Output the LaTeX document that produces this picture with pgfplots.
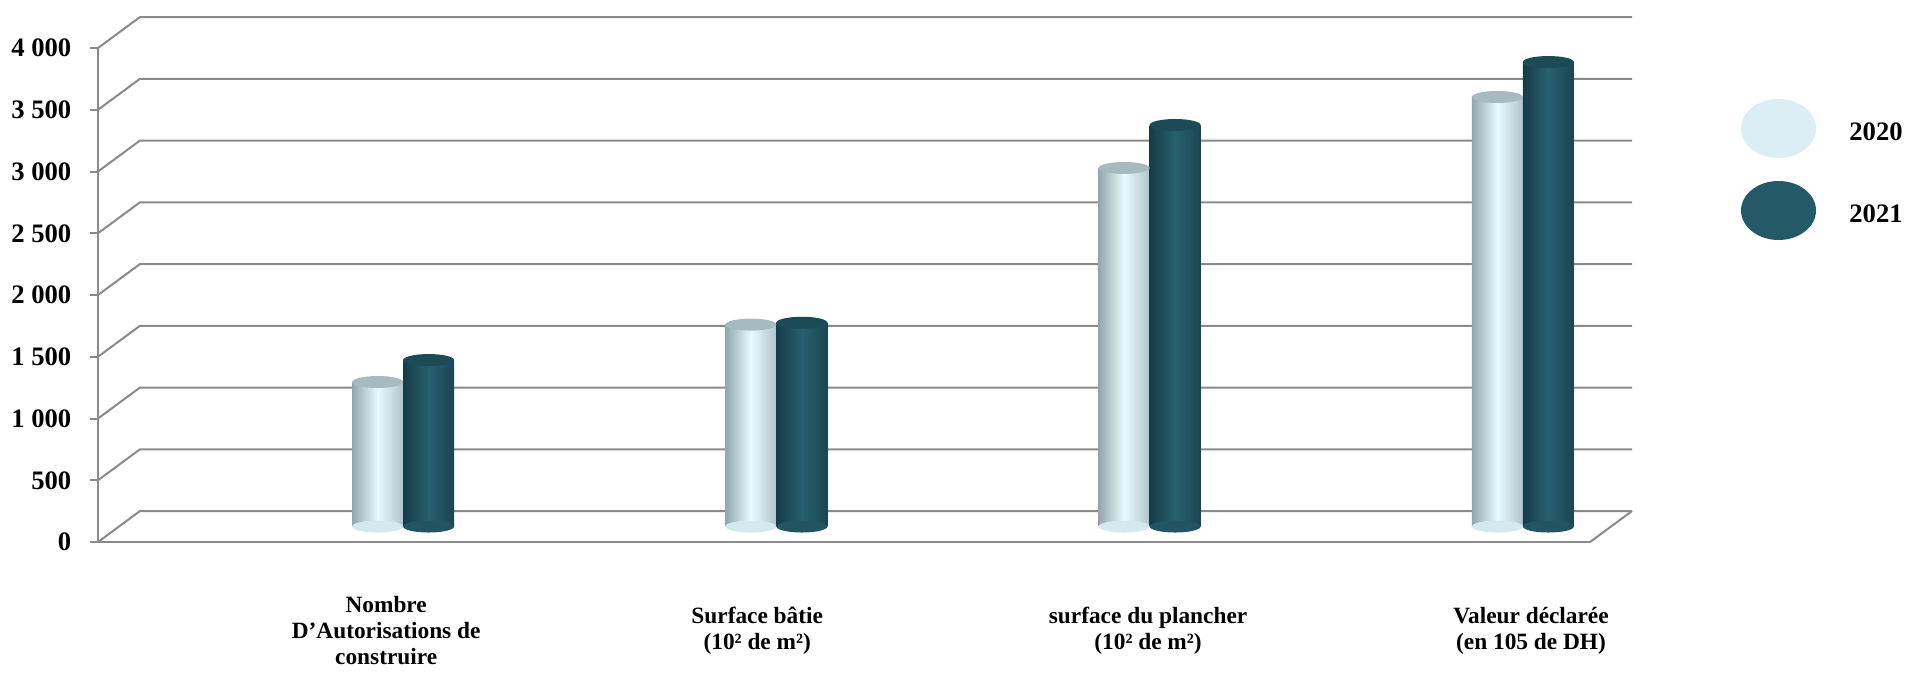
\documentclass[border=0pt]{standalone}
\usepackage{fontspec}
\setmainfont{Liberation Serif}
\usepackage{pgfplots}
\usepackage{pgfplotstable}
\pgfplotsset{compat=1.18}

\definecolor{gridc}{RGB}{138,138,138}
\definecolor{lightL}{RGB}{146,166,174}
\definecolor{lightM}{RGB}{230,251,255}
\definecolor{lightR}{RGB}{176,196,203}
\definecolor{lightCap}{RGB}{167,186,192}
\definecolor{lightBot}{RGB}{212,232,238}
\definecolor{darkL}{RGB}{22,60,71}
\definecolor{darkM}{RGB}{40,96,110}
\definecolor{darkR}{RGB}{26,70,82}
\definecolor{darkCap}{RGB}{29,74,87}
\definecolor{darkBot}{RGB}{34,84,98}
\definecolor{legL}{RGB}{219,238,244}
\definecolor{legD}{RGB}{36,90,104}

% ellipse used for the top and bottom of the cylinders
\pgfdeclareplotmark{cyl}{%
  \pgfpathellipse{\pgfpointorigin}{\pgfpoint{7.65pt}{0pt}}{\pgfpoint{0pt}{1.8pt}}%
  \pgfusepath{fill}}

\pgfplotstableread{
x v20 v21 base
0 1170 1348 0
1 1635 1650 0
2 2903 3251 0
3 3478 3761 0
}\datatab

% middle color must come after left/right color
\pgfplotsset{
  lbar/.style={ybar, bar width=15.3pt, bar shift=-7.65pt, xshift=6.3pt, yshift=4.65pt, draw=none,
    left color=lightL, right color=lightR, middle color=lightM},
  dbar/.style={ybar, bar width=15.3pt, bar shift=7.65pt, xshift=6.3pt, yshift=4.65pt, draw=none,
    left color=darkL, right color=darkR, middle color=darkM},
}

\begin{document}
\begin{tikzpicture}
\begin{axis}[
  at={(29.4pt,-162.6pt)}, anchor=south west,
  scale only axis,
  width=447.6pt, height=148.2pt,
  xmin=-0.761, xmax=3.236,
  ymin=0, ymax=4000,
  axis x line*=bottom, axis y line*=left,
  axis line style={draw=gridc, line width=0.6pt, -},
  xtick={0.011,1.005,2.052,3.078},
  xticklabels={{Nombre\\D’Autorisations de\\construire},{Surface bâtie\\(10² de m²)},{surface du plancher\\(10² de m²)},{Valeur déclarée\\(en 105 de DH)}},
  xtick style={draw=none},
  xticklabel style={font=\bfseries\fontsize{7}{7.8}\selectfont, align=center, anchor=center, yshift=-24.3pt},
  ytick={0,500,...,4000},
  yticklabels={0,500,1 000,1 500,2 000,2 500,3 000,3 500,4 000},
  tick align=outside,
  ytick pos=left,
  major tick length=2.4pt,
  ytick style={draw=gridc, line width=0.6pt},
  yticklabel style={font=\bfseries\fontsize{8}{9.6}\selectfont, inner sep=0pt, xshift=-5.4pt},
  legend style={at={(1.1012,0.8968)}, anchor=north west, draw=none, fill=none,
    inner sep=0pt, outer sep=0pt, row sep=6.9pt,
    font=\bfseries\fontsize{8}{9.6}\selectfont,
    nodes={inner sep=0pt},
    /tikz/every odd column/.append style={column sep=10pt}},
  clip=false,
]
% receding grid lines on the back wall
\pgfplotsinvokeforeach{0,500,...,4000}{
  \draw[gridc, line width=0.6pt] (axis cs:-0.761,#1) -- ([shift={(12.6pt,9.3pt)}]axis cs:-0.761,#1)
    -- ([shift={(12.6pt,9.3pt)}]axis cs:3.236,#1);
}
\draw[gridc, line width=0.6pt] (axis cs:3.236,0) -- ([shift={(12.6pt,9.3pt)}]axis cs:3.236,0);

% bottoms of cylinders
\addplot[only marks, mark=cyl, mark options={fill=lightBot, draw=none}, xshift=-1.35pt, yshift=4.65pt, forget plot]
  table[x=x, y=base] {\datatab};
\addplot[only marks, mark=cyl, mark options={fill=darkBot, draw=none}, xshift=13.95pt, yshift=4.65pt, forget plot]
  table[x=x, y=base] {\datatab};

% one plot per cylinder so that each gets its own shading
\addplot[lbar, restrict x to domain=0:0,
  legend image code/.code={\fill[legL, shade=false] (11.25pt,-3pt) ellipse (11.25pt and 8.85pt);}]
  table[x=x, y=v20] {\datatab};
\addlegendentry{2020}
\addplot[dbar, restrict x to domain=0:0,
  legend image code/.code={\fill[legD, shade=false] (11.25pt,-3pt) ellipse (11.25pt and 8.85pt);}]
  table[x=x, y=v21] {\datatab};
\addlegendentry{2021}
\pgfplotsinvokeforeach{1,2,3}{
  \addplot[lbar, restrict x to domain=#1:#1, forget plot] table[x=x, y=v20] {\datatab};
  \addplot[dbar, restrict x to domain=#1:#1, forget plot] table[x=x, y=v21] {\datatab};
}

% tops of cylinders
\addplot[only marks, mark=cyl, mark options={fill=lightCap, draw=none}, xshift=-1.35pt, yshift=4.65pt, forget plot]
  table[x=x, y=v20] {\datatab};
\addplot[only marks, mark=cyl, mark options={fill=darkCap, draw=none}, xshift=13.95pt, yshift=4.65pt, forget plot]
  table[x=x, y=v21] {\datatab};
\end{axis}
\pgfresetboundingbox
\useasboundingbox (0,0) rectangle (571.5pt,-201.6pt);
\end{tikzpicture}
\end{document}
